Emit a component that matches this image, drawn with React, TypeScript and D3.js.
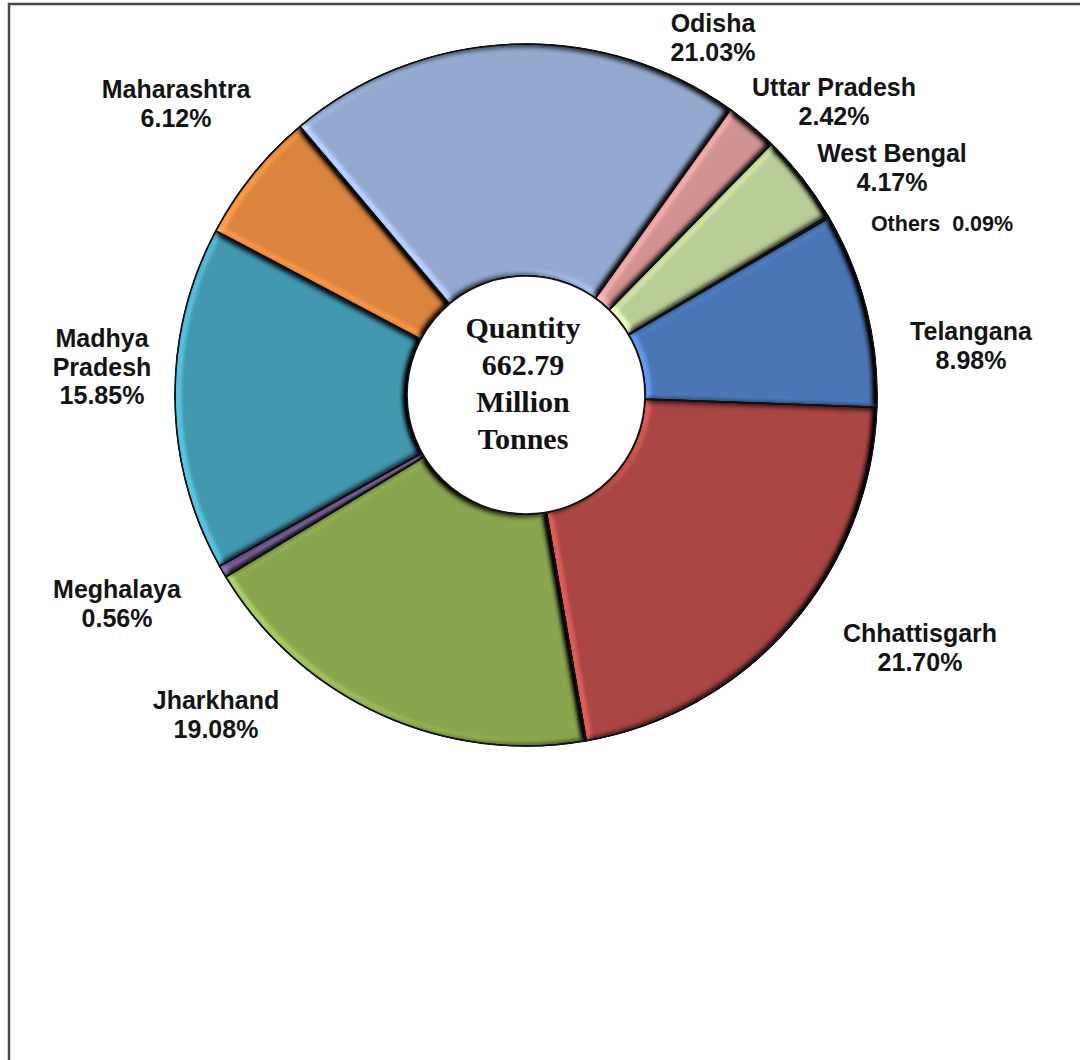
import React from "react";
import * as d3 from "d3";

const states = ["Chhattisgarh", "Jharkhand", "Meghalaya", "Madhya Pradesh", "Maharashtra", "Odisha", "Uttar Pradesh", "West Bengal", "Others", "Telangana"];
const shares = [21.70, 19.08, 0.56, 15.85, 6.12, 21.03, 2.42, 4.17, 0.09, 8.98];
const colors = ["#AA4643", "#89A54E", "#71588F", "#4198AF", "#DB843D", "#93A9CF", "#D19392", "#B9CD96", "#A99BBD", "#4A76B6"];
const centerLines = ["Quantity", "662.79", "Million", "Tonnes"];

// layout: label anchor (center x, first baseline y) per state
const labelAnchors: Record<string, [number, number]> = {
  "Chhattisgarh": [920, 642],
  "Jharkhand": [216, 709],
  "Meghalaya": [117, 598],
  "Madhya Pradesh": [102, 347],
  "Maharashtra": [176, 98],
  "Odisha": [713, 32],
  "Uttar Pradesh": [834, 96],
  "West Bengal": [892, 162],
  "Others": [942, 231],
  "Telangana": [971, 340],
};

const W = 1080, H = 1060;
const cx = 526, cy = 395, rOuter = 351, rInner = 119;
const startDeg = 92;

export default function App() {
  const data = states.map((s, i) => ({ name: s, value: shares[i], color: colors[i] }));
  const a0 = (startDeg * Math.PI) / 180;
  const pie = d3.pie<any>().sort(null).value((d) => d.value).startAngle(a0).endAngle(a0 + 2 * Math.PI);
  const arcs = pie(data);
  const arc = d3.arc<any>().innerRadius(rInner).outerRadius(rOuter);

  const labelFor = (name: string, value: number): string[] => {
    const pct = value.toFixed(2) + "%";
    if (name === "Others") return [name + "\u00a0\u00a0" + pct];
    if (name === "Madhya Pradesh") return ["Madhya", "Pradesh", pct];
    return [name, pct];
  };

  return (
    <svg width={W} height={H} style={{ position: "absolute", left: 0, top: 0, background: "#fff" }}>
      <defs>
        <filter id="bevel" x="-10%" y="-10%" width="120%" height="120%" colorInterpolationFilters="sRGB">
          <feGaussianBlur in="SourceAlpha" stdDeviation="3.5" result="blur" />
          <feDiffuseLighting in="blur" surfaceScale="7" diffuseConstant="1" lightingColor="#ffffff" result="light">
            <feDistantLight azimuth="170" elevation="50" />
          </feDiffuseLighting>
          <feComposite in="SourceGraphic" in2="light" operator="arithmetic" k1="1.305" k2="0" k3="0" k4="0" result="lit" />
          <feComposite in="lit" in2="SourceAlpha" operator="in" />
        </filter>
      </defs>
      <rect x={0} y={0} width={W} height={H} fill="#fff" />
      <rect x={9} y={4} width={W + 20} height={H + 20} fill="none" stroke="#4a4a4a" strokeWidth={2.5} />
      <g transform={`translate(${cx},${cy})`}>
        {arcs.map((a, i) => (
          <path key={i} d={arc(a) as string} fill={a.data.color} stroke="#111" strokeWidth={1.6} filter="url(#bevel)" />
        ))}
        {arcs.map((a, i) => (
          <path key={"s" + i} d={arc(a) as string} fill="none" stroke="#111" strokeWidth={1.4} />
        ))}
        <circle r={rInner} fill="#fff" stroke="#111" strokeWidth={1.6} />
      </g>
      <g fontFamily="'Liberation Serif', 'Times New Roman', serif" fontWeight="bold" fontSize={30} fill="#111" textAnchor="middle">
        {centerLines.map((t, i) => (
          <text key={i} x={523} y={338 + i * 37}>{t}</text>
        ))}
      </g>
      <g fontFamily="'Liberation Sans', Arial, sans-serif" fontWeight="bold" fill="#141414" textAnchor="middle">
        {data.map((d) => {
          const [lx, ly] = labelAnchors[d.name];
          const lines = labelFor(d.name, d.value);
          return (
            <text key={d.name} x={lx} y={ly} fontSize={d.name === "Others" ? 21.5 : 25}>
              {lines.map((l, j) => (
                <tspan key={j} x={lx} dy={j === 0 ? 0 : 28.5}>{l}</tspan>
              ))}
            </text>
          );
        })}
      </g>
    </svg>
  );
}
